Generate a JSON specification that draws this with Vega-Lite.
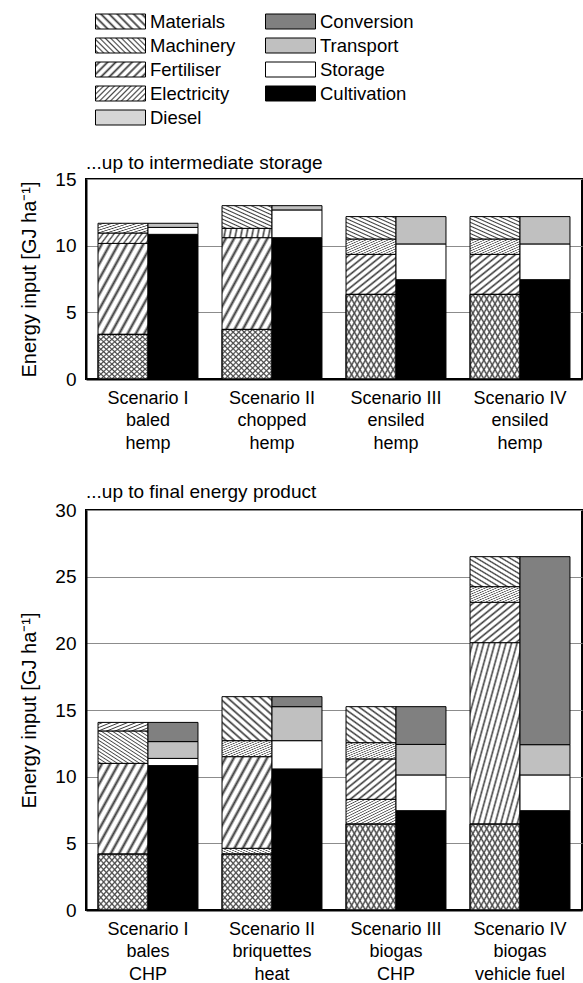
{
  "$schema": "https://vega.github.io/schema/vega-lite/v6.json",
  "padding": {"left": 18, "top": 11, "right": 0, "bottom": 0},
  "autosize": {"type": "pad"},
  "background": "white",
  "params": [
    {"name": "s12", "value": [
      {"offset":0.017,"color":"#fff"},{"offset":0.042,"color":"#3a3a3a"},{"offset":0.067,"color":"#fff"},
      {"offset":0.100,"color":"#fff"},{"offset":0.125,"color":"#3a3a3a"},{"offset":0.150,"color":"#fff"},
      {"offset":0.183,"color":"#fff"},{"offset":0.208,"color":"#3a3a3a"},{"offset":0.233,"color":"#fff"},
      {"offset":0.267,"color":"#fff"},{"offset":0.292,"color":"#3a3a3a"},{"offset":0.317,"color":"#fff"},
      {"offset":0.350,"color":"#fff"},{"offset":0.375,"color":"#3a3a3a"},{"offset":0.400,"color":"#fff"},
      {"offset":0.433,"color":"#fff"},{"offset":0.458,"color":"#3a3a3a"},{"offset":0.483,"color":"#fff"},
      {"offset":0.517,"color":"#fff"},{"offset":0.542,"color":"#3a3a3a"},{"offset":0.567,"color":"#fff"},
      {"offset":0.600,"color":"#fff"},{"offset":0.625,"color":"#3a3a3a"},{"offset":0.650,"color":"#fff"},
      {"offset":0.683,"color":"#fff"},{"offset":0.708,"color":"#3a3a3a"},{"offset":0.733,"color":"#fff"},
      {"offset":0.767,"color":"#fff"},{"offset":0.792,"color":"#3a3a3a"},{"offset":0.817,"color":"#fff"},
      {"offset":0.850,"color":"#fff"},{"offset":0.875,"color":"#3a3a3a"},{"offset":0.900,"color":"#fff"},
      {"offset":0.933,"color":"#fff"},{"offset":0.958,"color":"#3a3a3a"},{"offset":0.983,"color":"#fff"}
    ]},
    {"name": "s18", "value": [
      {"offset":0.011,"color":"#fff"},{"offset":0.028,"color":"#484848"},{"offset":0.044,"color":"#fff"},
      {"offset":0.067,"color":"#fff"},{"offset":0.083,"color":"#484848"},{"offset":0.100,"color":"#fff"},
      {"offset":0.122,"color":"#fff"},{"offset":0.139,"color":"#484848"},{"offset":0.156,"color":"#fff"},
      {"offset":0.178,"color":"#fff"},{"offset":0.194,"color":"#484848"},{"offset":0.211,"color":"#fff"},
      {"offset":0.233,"color":"#fff"},{"offset":0.250,"color":"#484848"},{"offset":0.267,"color":"#fff"},
      {"offset":0.289,"color":"#fff"},{"offset":0.306,"color":"#484848"},{"offset":0.322,"color":"#fff"},
      {"offset":0.344,"color":"#fff"},{"offset":0.361,"color":"#484848"},{"offset":0.378,"color":"#fff"},
      {"offset":0.400,"color":"#fff"},{"offset":0.417,"color":"#484848"},{"offset":0.433,"color":"#fff"},
      {"offset":0.456,"color":"#fff"},{"offset":0.472,"color":"#484848"},{"offset":0.489,"color":"#fff"},
      {"offset":0.511,"color":"#fff"},{"offset":0.528,"color":"#484848"},{"offset":0.544,"color":"#fff"},
      {"offset":0.567,"color":"#fff"},{"offset":0.583,"color":"#484848"},{"offset":0.600,"color":"#fff"},
      {"offset":0.622,"color":"#fff"},{"offset":0.639,"color":"#484848"},{"offset":0.656,"color":"#fff"},
      {"offset":0.678,"color":"#fff"},{"offset":0.694,"color":"#484848"},{"offset":0.711,"color":"#fff"},
      {"offset":0.733,"color":"#fff"},{"offset":0.750,"color":"#484848"},{"offset":0.767,"color":"#fff"},
      {"offset":0.789,"color":"#fff"},{"offset":0.806,"color":"#484848"},{"offset":0.822,"color":"#fff"},
      {"offset":0.844,"color":"#fff"},{"offset":0.861,"color":"#484848"},{"offset":0.878,"color":"#fff"},
      {"offset":0.900,"color":"#fff"},{"offset":0.917,"color":"#484848"},{"offset":0.933,"color":"#fff"},
      {"offset":0.956,"color":"#fff"},{"offset":0.972,"color":"#484848"},{"offset":0.989,"color":"#fff"}
    ]},
    {"name": "s18t", "value": [
      {"offset":0.011,"color":"rgba(72,72,72,0)"},{"offset":0.028,"color":"#484848"},{"offset":0.044,"color":"rgba(72,72,72,0)"},
      {"offset":0.067,"color":"rgba(72,72,72,0)"},{"offset":0.083,"color":"#484848"},{"offset":0.100,"color":"rgba(72,72,72,0)"},
      {"offset":0.122,"color":"rgba(72,72,72,0)"},{"offset":0.139,"color":"#484848"},{"offset":0.156,"color":"rgba(72,72,72,0)"},
      {"offset":0.178,"color":"rgba(72,72,72,0)"},{"offset":0.194,"color":"#484848"},{"offset":0.211,"color":"rgba(72,72,72,0)"},
      {"offset":0.233,"color":"rgba(72,72,72,0)"},{"offset":0.250,"color":"#484848"},{"offset":0.267,"color":"rgba(72,72,72,0)"},
      {"offset":0.289,"color":"rgba(72,72,72,0)"},{"offset":0.306,"color":"#484848"},{"offset":0.322,"color":"rgba(72,72,72,0)"},
      {"offset":0.344,"color":"rgba(72,72,72,0)"},{"offset":0.361,"color":"#484848"},{"offset":0.378,"color":"rgba(72,72,72,0)"},
      {"offset":0.400,"color":"rgba(72,72,72,0)"},{"offset":0.417,"color":"#484848"},{"offset":0.433,"color":"rgba(72,72,72,0)"},
      {"offset":0.456,"color":"rgba(72,72,72,0)"},{"offset":0.472,"color":"#484848"},{"offset":0.489,"color":"rgba(72,72,72,0)"},
      {"offset":0.511,"color":"rgba(72,72,72,0)"},{"offset":0.528,"color":"#484848"},{"offset":0.544,"color":"rgba(72,72,72,0)"},
      {"offset":0.567,"color":"rgba(72,72,72,0)"},{"offset":0.583,"color":"#484848"},{"offset":0.600,"color":"rgba(72,72,72,0)"},
      {"offset":0.622,"color":"rgba(72,72,72,0)"},{"offset":0.639,"color":"#484848"},{"offset":0.656,"color":"rgba(72,72,72,0)"},
      {"offset":0.678,"color":"rgba(72,72,72,0)"},{"offset":0.694,"color":"#484848"},{"offset":0.711,"color":"rgba(72,72,72,0)"},
      {"offset":0.733,"color":"rgba(72,72,72,0)"},{"offset":0.750,"color":"#484848"},{"offset":0.767,"color":"rgba(72,72,72,0)"},
      {"offset":0.789,"color":"rgba(72,72,72,0)"},{"offset":0.806,"color":"#484848"},{"offset":0.822,"color":"rgba(72,72,72,0)"},
      {"offset":0.844,"color":"rgba(72,72,72,0)"},{"offset":0.861,"color":"#484848"},{"offset":0.878,"color":"rgba(72,72,72,0)"},
      {"offset":0.900,"color":"rgba(72,72,72,0)"},{"offset":0.917,"color":"#484848"},{"offset":0.933,"color":"rgba(72,72,72,0)"},
      {"offset":0.956,"color":"rgba(72,72,72,0)"},{"offset":0.972,"color":"#484848"},{"offset":0.989,"color":"rgba(72,72,72,0)"}
    ]},
    {"name": "gMat", "expr": "{gradient: 'linear', x1: 0, y1: 1, x2: 1, y2: 0, stops: s12}"},
    {"name": "gMach", "expr": "{gradient: 'linear', x1: 0, y1: 1, x2: 1, y2: 0, stops: s18}"},
    {"name": "gFert", "expr": "{gradient: 'linear', x1: 0, y1: 0, x2: 1, y2: 1, stops: s12}"},
    {"name": "gElec", "expr": "{gradient: 'linear', x1: 0, y1: 0, x2: 1, y2: 1, stops: s18}"},
    {"name": "gDies", "expr": "{gradient: 'linear', x1: 0, y1: 0, x2: 1, y2: 1, stops: s18}"},
    {"name": "gDiesX", "expr": "{gradient: 'linear', x1: 0, y1: 1, x2: 1, y2: 0, stops: s18t}"},
    {"name": "gMatL", "expr": "{gradient: 'linear', x1: 0, y1: 1, x2: 1.8, y2: 0.46, stops: s12}"},
    {"name": "gMachL", "expr": "{gradient: 'linear', x1: 0, y1: 1, x2: 1.8, y2: 0.46, stops: s18}"},
    {"name": "gFertL", "expr": "{gradient: 'linear', x1: 0, y1: 0, x2: 1.8, y2: 0.54, stops: s12}"},
    {"name": "gElecL", "expr": "{gradient: 'linear', x1: 0, y1: 0, x2: 1.8, y2: 0.54, stops: s18}"}
  ],
  "datasets": {
    "categories": [
      {"category": "Diesel", "rank": 1},
      {"category": "Electricity", "rank": 2},
      {"category": "Fertiliser", "rank": 3},
      {"category": "Machinery", "rank": 4},
      {"category": "Materials", "rank": 5},
      {"category": "Cultivation", "rank": 1},
      {"category": "Storage", "rank": 2},
      {"category": "Transport", "rank": 3},
      {"category": "Conversion", "rank": 4}
    ],
    "storage": [
      {"scenario": "Scenario I\nbaled\nhemp", "part": "Inputs", "category": "Diesel", "value": 3.35},
      {"scenario": "Scenario I\nbaled\nhemp", "part": "Inputs", "category": "Fertiliser", "value": 6.82},
      {"scenario": "Scenario I\nbaled\nhemp", "part": "Inputs", "category": "Machinery", "value": 0.78},
      {"scenario": "Scenario I\nbaled\nhemp", "part": "Inputs", "category": "Materials", "value": 0.73},
      {"scenario": "Scenario I\nbaled\nhemp", "part": "Stages", "category": "Cultivation", "value": 10.85},
      {"scenario": "Scenario I\nbaled\nhemp", "part": "Stages", "category": "Storage", "value": 0.52},
      {"scenario": "Scenario I\nbaled\nhemp", "part": "Stages", "category": "Transport", "value": 0.31},
      {"scenario": "Scenario II\nchopped\nhemp", "part": "Inputs", "category": "Diesel", "value": 3.72},
      {"scenario": "Scenario II\nchopped\nhemp", "part": "Inputs", "category": "Fertiliser", "value": 6.88},
      {"scenario": "Scenario II\nchopped\nhemp", "part": "Inputs", "category": "Machinery", "value": 0.70},
      {"scenario": "Scenario II\nchopped\nhemp", "part": "Inputs", "category": "Materials", "value": 1.70},
      {"scenario": "Scenario II\nchopped\nhemp", "part": "Stages", "category": "Cultivation", "value": 10.6},
      {"scenario": "Scenario II\nchopped\nhemp", "part": "Stages", "category": "Storage", "value": 2.08},
      {"scenario": "Scenario II\nchopped\nhemp", "part": "Stages", "category": "Transport", "value": 0.32},
      {"scenario": "Scenario III\nensiled\nhemp", "part": "Inputs", "category": "Diesel", "value": 6.35},
      {"scenario": "Scenario III\nensiled\nhemp", "part": "Inputs", "category": "Fertiliser", "value": 3.0},
      {"scenario": "Scenario III\nensiled\nhemp", "part": "Inputs", "category": "Machinery", "value": 1.15},
      {"scenario": "Scenario III\nensiled\nhemp", "part": "Inputs", "category": "Materials", "value": 1.68},
      {"scenario": "Scenario III\nensiled\nhemp", "part": "Stages", "category": "Cultivation", "value": 7.45},
      {"scenario": "Scenario III\nensiled\nhemp", "part": "Stages", "category": "Storage", "value": 2.68},
      {"scenario": "Scenario III\nensiled\nhemp", "part": "Stages", "category": "Transport", "value": 2.05},
      {"scenario": "Scenario IV\nensiled\nhemp", "part": "Inputs", "category": "Diesel", "value": 6.35},
      {"scenario": "Scenario IV\nensiled\nhemp", "part": "Inputs", "category": "Fertiliser", "value": 3.0},
      {"scenario": "Scenario IV\nensiled\nhemp", "part": "Inputs", "category": "Machinery", "value": 1.15},
      {"scenario": "Scenario IV\nensiled\nhemp", "part": "Inputs", "category": "Materials", "value": 1.68},
      {"scenario": "Scenario IV\nensiled\nhemp", "part": "Stages", "category": "Cultivation", "value": 7.45},
      {"scenario": "Scenario IV\nensiled\nhemp", "part": "Stages", "category": "Storage", "value": 2.68},
      {"scenario": "Scenario IV\nensiled\nhemp", "part": "Stages", "category": "Transport", "value": 2.05}
    ],
    "final": [
      {"scenario": "Scenario I\nbales\nCHP", "part": "Inputs", "category": "Diesel", "value": 4.2},
      {"scenario": "Scenario I\nbales\nCHP", "part": "Inputs", "category": "Fertiliser", "value": 6.8},
      {"scenario": "Scenario I\nbales\nCHP", "part": "Inputs", "category": "Machinery", "value": 2.43},
      {"scenario": "Scenario I\nbales\nCHP", "part": "Inputs", "category": "Materials", "value": 0.64},
      {"scenario": "Scenario I\nbales\nCHP", "part": "Stages", "category": "Cultivation", "value": 10.83},
      {"scenario": "Scenario I\nbales\nCHP", "part": "Stages", "category": "Storage", "value": 0.54},
      {"scenario": "Scenario I\nbales\nCHP", "part": "Stages", "category": "Transport", "value": 1.26},
      {"scenario": "Scenario I\nbales\nCHP", "part": "Stages", "category": "Conversion", "value": 1.44},
      {"scenario": "Scenario II\nbriquettes\nheat", "part": "Inputs", "category": "Diesel", "value": 4.2},
      {"scenario": "Scenario II\nbriquettes\nheat", "part": "Inputs", "category": "Electricity", "value": 0.43},
      {"scenario": "Scenario II\nbriquettes\nheat", "part": "Inputs", "category": "Fertiliser", "value": 6.87},
      {"scenario": "Scenario II\nbriquettes\nheat", "part": "Inputs", "category": "Machinery", "value": 1.2},
      {"scenario": "Scenario II\nbriquettes\nheat", "part": "Inputs", "category": "Materials", "value": 3.3},
      {"scenario": "Scenario II\nbriquettes\nheat", "part": "Stages", "category": "Cultivation", "value": 10.58},
      {"scenario": "Scenario II\nbriquettes\nheat", "part": "Stages", "category": "Storage", "value": 2.12},
      {"scenario": "Scenario II\nbriquettes\nheat", "part": "Stages", "category": "Transport", "value": 2.55},
      {"scenario": "Scenario II\nbriquettes\nheat", "part": "Stages", "category": "Conversion", "value": 0.75},
      {"scenario": "Scenario III\nbiogas\nCHP", "part": "Inputs", "category": "Diesel", "value": 6.45},
      {"scenario": "Scenario III\nbiogas\nCHP", "part": "Inputs", "category": "Electricity", "value": 1.85},
      {"scenario": "Scenario III\nbiogas\nCHP", "part": "Inputs", "category": "Fertiliser", "value": 3.03},
      {"scenario": "Scenario III\nbiogas\nCHP", "part": "Inputs", "category": "Machinery", "value": 1.22},
      {"scenario": "Scenario III\nbiogas\nCHP", "part": "Inputs", "category": "Materials", "value": 2.7},
      {"scenario": "Scenario III\nbiogas\nCHP", "part": "Stages", "category": "Cultivation", "value": 7.45},
      {"scenario": "Scenario III\nbiogas\nCHP", "part": "Stages", "category": "Storage", "value": 2.68},
      {"scenario": "Scenario III\nbiogas\nCHP", "part": "Stages", "category": "Transport", "value": 2.29},
      {"scenario": "Scenario III\nbiogas\nCHP", "part": "Stages", "category": "Conversion", "value": 2.83},
      {"scenario": "Scenario IV\nbiogas\nvehicle fuel", "part": "Inputs", "category": "Diesel", "value": 6.45},
      {"scenario": "Scenario IV\nbiogas\nvehicle fuel", "part": "Inputs", "category": "Electricity", "value": 13.6},
      {"scenario": "Scenario IV\nbiogas\nvehicle fuel", "part": "Inputs", "category": "Fertiliser", "value": 3.03},
      {"scenario": "Scenario IV\nbiogas\nvehicle fuel", "part": "Inputs", "category": "Machinery", "value": 1.17},
      {"scenario": "Scenario IV\nbiogas\nvehicle fuel", "part": "Inputs", "category": "Materials", "value": 2.25},
      {"scenario": "Scenario IV\nbiogas\nvehicle fuel", "part": "Stages", "category": "Cultivation", "value": 7.45},
      {"scenario": "Scenario IV\nbiogas\nvehicle fuel", "part": "Stages", "category": "Storage", "value": 2.68},
      {"scenario": "Scenario IV\nbiogas\nvehicle fuel", "part": "Stages", "category": "Transport", "value": 2.27},
      {"scenario": "Scenario IV\nbiogas\nvehicle fuel", "part": "Stages", "category": "Conversion", "value": 14.1}
    ]
  },
  "config": {
    "font": "Liberation Sans",
    "view": {"stroke": "black", "strokeWidth": 2},
    "axis": {"labelFont": "Liberation Sans", "titleFont": "Liberation Sans", "labelColor": "black", "titleColor": "black", "domainColor": "black", "domainWidth": 2, "ticks": false, "gridColor": "#8c8c8c", "gridWidth": 1},
    "axisX": {"labelAngle": 0, "labelFontSize": 18, "labelPadding": 10, "labelLineHeight": 22.5, "labelLimit": 300, "grid": false, "labelExpr": "split(datum.value, '\\n')"},
    "axisY": {"labelFontSize": 19, "labelPadding": 10, "titleFontSize": 20, "titleFontWeight": "normal", "titlePadding": 15, "grid": true},
    "legend": {"labelFont": "Liberation Sans", "labelFontSize": 18.5, "labelColor": "black", "labelOffset": 19, "rowPadding": 4, "columnPadding": 27, "symbolType": "M-2.5,-0.75H2.5V0.75H-2.5Z", "symbolSize": 400, "symbolStrokeColor": "black", "symbolStrokeWidth": 1, "padding": 0, "symbolOpacity": 1},
    "title": {"anchor": "start", "frame": "group", "fontSize": 19, "fontWeight": "normal", "font": "Liberation Sans", "color": "black", "baseline": "alphabetic"}
  },
  "resolve": {"scale": {"fill": "shared", "x": "independent", "y": "independent", "xOffset": "independent"}, "legend": {"fill": "shared"}},
  "spacing": 28,
  "vconcat": [
    {
      "width": 496,
      "height": 200,
      "title": {"text": "...up to intermediate storage", "offset": -3},
      "data": {"name": "storage"},
      "transform": [{"lookup": "category", "from": {"data": {"name": "categories"}, "key": "category", "fields": ["rank"]}}],
      "encoding": {
        "x": {"field": "scenario", "type": "nominal", "sort": null, "scale": {"paddingInner": 0.194, "paddingOuter": 0.097}, "axis": {"title": null}},
        "xOffset": {"field": "part", "type": "nominal", "scale": {"domain": ["Inputs", "Stages"], "paddingInner": 0, "paddingOuter": 0}},
        "y": {"field": "value", "type": "quantitative", "scale": {"domain": [0, 15], "nice": false}, "axis": {"values": [0, 5, 10, 15], "title": "Energy input [GJ ha⁻¹]"}}
      },
      "layer": [
        {
          "mark": {"type": "bar", "stroke": "black", "strokeWidth": 1},
          "encoding": {
            "fill": {
              "field": "category", "type": "nominal",
              "scale": {"domain": ["Materials", "Machinery", "Fertiliser", "Electricity", "Diesel", "Conversion", "Transport", "Storage", "Cultivation"], "range": [{"expr": "gMatL"}, {"expr": "gMachL"}, {"expr": "gFertL"}, {"expr": "gElecL"}, "#d6d6d6", "#808080", "#c0c0c0", "#ffffff", "#000000"]},
              "legend": {"orient": "none", "legendX": 24, "legendY": -168, "columns": 2, "title": null, "direction": "vertical"},
              "condition": [
                {"test": "datum.category === 'Materials'", "value": {"expr": "gMat"}},
                {"test": "datum.category === 'Machinery'", "value": {"expr": "gMach"}},
                {"test": "datum.category === 'Fertiliser'", "value": {"expr": "gFert"}},
                {"test": "datum.category === 'Electricity'", "value": {"expr": "gElec"}},
                {"test": "datum.category === 'Diesel'", "value": {"expr": "gDies"}}
              ]
            },
            "order": {"field": "rank", "type": "quantitative"}
          }
        },
        {
          "transform": [{"filter": "datum.category === 'Diesel'"}],
          "mark": {"type": "bar", "stroke": "black", "strokeWidth": 1, "fill": {"expr": "gDiesX"}}
        }
      ]
    },
    {
      "width": 496,
      "height": 400,
      "title": {"text": "...up to final energy product", "offset": -0.5},
      "data": {"name": "final"},
      "transform": [{"lookup": "category", "from": {"data": {"name": "categories"}, "key": "category", "fields": ["rank"]}}],
      "encoding": {
        "x": {"field": "scenario", "type": "nominal", "sort": null, "scale": {"paddingInner": 0.194, "paddingOuter": 0.097}, "axis": {"title": null}},
        "xOffset": {"field": "part", "type": "nominal", "scale": {"domain": ["Inputs", "Stages"], "paddingInner": 0, "paddingOuter": 0}},
        "y": {"field": "value", "type": "quantitative", "scale": {"domain": [0, 30], "nice": false}, "axis": {"values": [0, 5, 10, 15, 20, 25, 30], "title": "Energy input [GJ ha⁻¹]"}}
      },
      "layer": [
        {
          "mark": {"type": "bar", "stroke": "black", "strokeWidth": 1},
          "encoding": {
            "fill": {
              "field": "category", "type": "nominal",
              "scale": {"domain": ["Materials", "Machinery", "Fertiliser", "Electricity", "Diesel", "Conversion", "Transport", "Storage", "Cultivation"], "range": [{"expr": "gMatL"}, {"expr": "gMachL"}, {"expr": "gFertL"}, {"expr": "gElecL"}, "#d6d6d6", "#808080", "#c0c0c0", "#ffffff", "#000000"]},
              "legend": null,
              "condition": [
                {"test": "datum.category === 'Materials'", "value": {"expr": "gMat"}},
                {"test": "datum.category === 'Machinery'", "value": {"expr": "gMach"}},
                {"test": "datum.category === 'Fertiliser'", "value": {"expr": "gFert"}},
                {"test": "datum.category === 'Electricity'", "value": {"expr": "gElec"}},
                {"test": "datum.category === 'Diesel'", "value": {"expr": "gDies"}}
              ]
            },
            "order": {"field": "rank", "type": "quantitative"}
          }
        },
        {
          "transform": [{"filter": "datum.category === 'Diesel'"}],
          "mark": {"type": "bar", "stroke": "black", "strokeWidth": 1, "fill": {"expr": "gDiesX"}}
        }
      ]
    }
  ]
}
